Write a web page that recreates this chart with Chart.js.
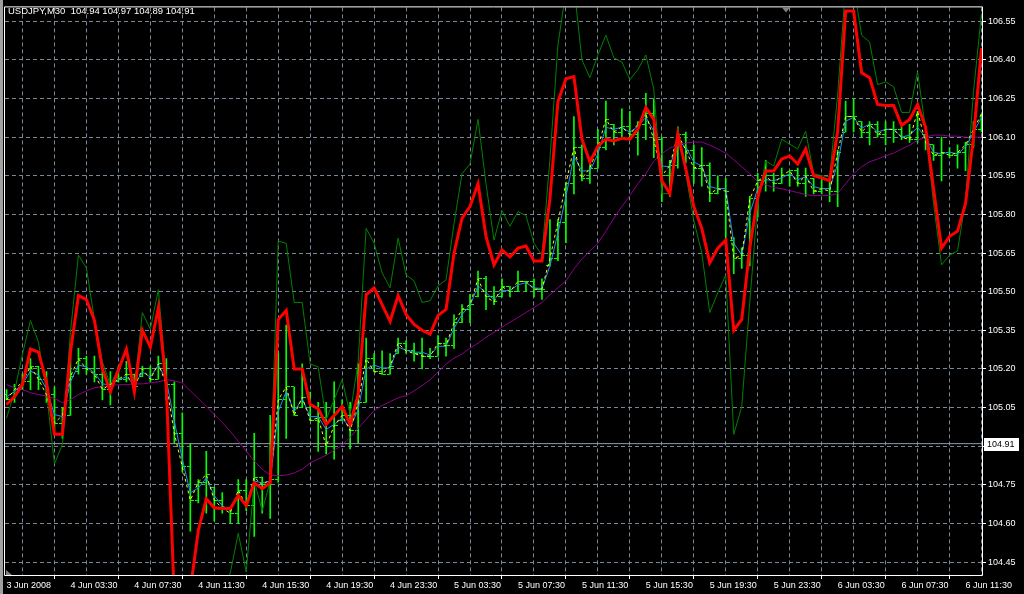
<!DOCTYPE html>
<html>
<head>
<meta charset="utf-8">
<script src="https://cdn.jsdelivr.net/npm/chart.js@4.4.0/dist/chart.umd.min.js"></script>
<style>
html,body{margin:0;padding:0;background:#000;}
canvas{display:block;}
</style>
</head>
<body>
<canvas id="c" width="1024" height="594"></canvas>
<script>
const symbolTitle = "USDJPY,M30  104.94 104.97 104.89 104.91";
const currentPrice = 104.91;
const xLabels = ["3 Jun 2008","4 Jun 03:30","4 Jun 07:30","4 Jun 11:30","4 Jun 15:30","4 Jun 19:30","4 Jun 23:30","5 Jun 03:30","5 Jun 07:30","5 Jun 11:30","5 Jun 15:30","5 Jun 19:30","5 Jun 23:30","6 Jun 03:30","6 Jun 07:30","6 Jun 11:30"];
const yTicks = [104.45,104.60,104.75,104.90,105.05,105.20,105.35,105.50,105.65,105.80,105.95,106.10,106.25,106.40,106.55];

const highs = [105.12,105.14,105.18,105.24,105.21,105.19,105.13,105.05,105.29,105.28,
105.25,105.25,105.19,105.19,105.21,105.23,105.18,105.21,105.21,105.25,
105.24,105.15,105.03,104.91,104.77,104.88,104.74,104.72,104.66,104.77,
104.77,104.95,104.78,105.02,105.26,105.37,105.13,105.22,105.11,105.07,
105.07,105.15,105.08,105.07,105.22,105.32,105.26,105.27,105.26,105.32,
105.31,105.30,105.32,105.28,105.33,105.32,105.41,105.45,105.49,105.58,
105.56,105.52,105.55,105.52,105.58,105.54,105.55,105.55,105.78,105.78,
105.92,106.18,106.07,106.00,106.13,106.24,106.15,106.21,106.20,106.16,
106.27,106.25,106.10,106.01,106.14,106.12,106.07,106.06,106.00,105.95,
105.94,105.71,105.67,105.87,105.96,106.01,105.96,105.98,105.97,105.98,
105.98,105.94,105.94,105.94,106.05,106.24,106.25,106.16,106.16,106.16,
106.16,106.16,106.14,106.15,106.20,106.11,106.07,106.10,106.06,106.07,
106.08,106.16,106.19];

const lows = [105.08,105.07,105.12,105.12,105.12,105.07,104.96,104.93,105.02,105.18,
105.18,105.15,105.08,105.06,105.15,105.15,105.12,105.17,105.15,105.16,
105.08,104.91,104.80,104.57,104.68,104.64,104.61,104.64,104.60,104.60,
104.65,104.55,104.64,104.62,104.76,104.93,105.02,105.05,105.00,104.88,
104.87,104.85,105.00,104.89,104.91,105.07,105.19,105.18,105.18,105.26,
105.26,105.23,105.20,105.24,105.25,105.25,105.28,105.38,105.38,105.48,
105.43,105.45,105.48,105.48,105.50,105.50,105.48,105.47,105.60,105.62,
105.69,105.88,105.93,105.92,105.98,106.05,106.07,106.10,106.10,106.03,
106.09,106.02,105.85,105.87,105.98,106.00,105.92,105.91,105.85,105.88,
105.70,105.57,105.59,105.60,105.79,105.89,105.89,105.92,105.91,105.91,
105.87,105.88,105.88,105.85,105.83,106.12,106.12,106.10,106.07,106.10,
106.07,106.08,106.09,106.08,106.08,106.05,106.01,105.93,106.02,105.98,
105.97,106.06,106.12];

const opens = [105.10,105.08,105.12,105.15,105.21,105.16,105.10,104.99,105.02,105.19,
105.24,105.20,105.18,105.12,105.15,105.16,105.18,105.17,105.20,105.16,
105.22,105.14,104.95,104.82,104.69,104.76,104.74,104.69,104.66,104.64,
104.73,104.67,104.78,104.75,104.77,105.08,105.13,105.05,105.09,105.00,
105.01,104.90,105.00,105.02,104.96,105.07,105.24,105.19,105.18,105.26,
105.30,105.27,105.26,105.25,105.25,105.30,105.29,105.38,105.43,105.48,
105.55,105.48,105.48,105.52,105.50,105.54,105.54,105.51,105.60,105.63,
105.77,105.92,106.06,105.94,105.98,106.06,106.15,106.12,106.14,106.11,
106.15,106.19,106.09,105.95,105.99,106.11,106.05,105.98,105.99,105.88,
105.90,105.70,105.63,105.64,105.86,105.93,105.95,105.92,105.95,105.97,
105.92,105.94,105.89,105.90,105.89,106.12,106.18,106.16,106.12,106.15,
106.11,106.13,106.13,106.10,106.09,106.11,106.07,106.03,106.04,106.03,
106.04,106.07,106.13];

const closes = [105.08,105.12,105.15,105.21,105.16,105.10,104.99,105.02,105.17,105.24,
105.20,105.18,105.12,105.14,105.16,105.18,105.13,105.20,105.16,105.22,
105.14,104.95,104.82,104.69,104.76,104.79,104.69,104.66,104.64,104.73,
104.67,104.78,104.75,104.77,105.08,105.13,105.02,105.09,105.00,105.01,
104.90,104.98,105.02,104.96,105.07,105.24,105.19,105.18,105.21,105.30,
105.27,105.26,105.25,105.25,105.30,105.29,105.38,105.43,105.45,105.55,
105.48,105.46,105.52,105.50,105.54,105.54,105.51,105.51,105.63,105.77,
105.92,106.06,105.94,105.98,106.06,106.17,106.12,106.14,106.11,106.15,
106.19,106.09,105.95,105.99,106.11,106.05,105.98,105.99,105.88,105.90,
105.89,105.63,105.64,105.86,105.93,105.95,105.92,105.95,105.97,105.92,
105.95,105.89,105.90,105.89,106.04,106.18,106.18,106.12,106.15,106.11,
106.13,106.13,106.10,106.09,106.20,106.08,106.03,106.04,106.03,106.04,
106.07,106.13,106.19];

const blueLine = [105.092,105.112,105.142,105.192,105.177,105.123,105.023,105.015,105.150,105.215,
105.208,105.185,105.142,105.138,105.158,105.169,105.138,105.188,105.169,105.215,
105.158,104.996,104.850,104.719,104.738,104.777,104.708,104.669,104.650,104.708,
104.677,104.765,104.758,104.765,105.035,105.112,105.035,105.085,105.015,105.015,
104.965,104.985,105.008,104.973,105.042,105.200,105.215,105.204,105.204,105.285,
105.273,105.265,105.265,105.254,105.288,105.288,105.358,105.412,105.446,105.523,
105.496,105.469,105.504,105.504,105.527,105.535,105.515,105.512,105.600,105.727,
105.869,106.027,105.969,105.969,106.035,106.138,106.131,106.138,106.119,106.142,
106.177,106.123,105.988,105.985,106.085,106.062,106.004,105.988,105.908,105.900,
105.900,105.688,105.642,105.804,105.900,105.935,105.931,105.942,105.958,105.935,
105.946,105.908,105.900,105.900,105.996,106.162,106.177,106.135,106.150,106.119,
106.131,106.131,106.100,106.108,106.138,106.100,106.042,106.035,106.042,106.035,
106.062,106.119,106.177];

const redLine = [105.062,105.092,105.139,105.277,105.265,105.150,104.946,104.946,105.265,105.485,
105.469,105.389,105.200,105.112,105.196,105.277,105.112,105.350,105.285,105.438,
105.131,104.304,104.227,104.342,104.573,104.696,104.661,104.658,104.658,104.708,
104.669,104.758,104.735,104.758,105.392,105.427,105.200,105.200,105.062,105.046,
104.985,105.019,105.054,104.985,105.100,105.488,105.515,105.450,105.385,105.485,
105.412,105.373,105.350,105.335,105.408,105.431,105.650,105.785,105.831,105.919,
105.715,105.604,105.662,105.635,105.669,105.677,105.619,105.619,105.861,106.238,
106.327,106.335,106.092,106.004,106.065,106.092,106.085,106.096,106.092,106.131,
106.215,106.169,105.931,105.881,106.111,105.977,105.831,105.746,105.612,105.669,
105.700,105.350,105.392,105.669,105.869,105.969,105.969,106.015,106.027,105.996,
106.054,105.950,105.942,105.931,106.123,106.590,106.590,106.350,106.331,106.227,
106.223,106.223,106.146,106.169,106.227,106.138,105.900,105.669,105.715,105.735,
105.842,106.100,106.446];

const greenLine = [105.008,105.112,105.258,105.388,105.304,105.112,104.831,104.908,105.342,105.642,
105.592,105.392,105.227,105.138,105.204,105.273,105.123,105.419,105.354,105.508,
105.150,104.304,104.150,104.150,104.227,104.265,104.304,104.342,104.408,104.562,
104.412,104.765,104.650,104.765,105.696,105.688,105.458,105.458,105.219,105.208,
105.004,105.081,105.158,105.023,105.227,105.746,105.688,105.573,105.515,105.708,
105.565,105.542,105.458,105.465,105.523,105.546,105.765,105.958,105.996,106.169,
105.919,105.700,105.815,105.754,105.811,105.796,105.688,105.642,106.015,106.458,
106.669,106.688,106.400,106.331,106.419,106.496,106.408,106.392,106.323,106.362,
106.419,106.285,105.881,105.881,106.138,105.958,105.777,105.650,105.419,105.496,
105.565,104.946,105.054,105.458,105.842,106.008,105.988,106.092,106.073,106.054,
106.123,105.958,105.950,105.946,106.265,106.688,106.688,106.496,106.469,106.304,
106.315,106.296,106.196,106.196,106.354,106.131,105.842,105.604,105.642,105.658,
105.854,106.277,106.581];

const purpleLine = [105.139,105.127,105.119,105.108,105.100,105.096,105.085,105.069,105.081,105.100,
105.115,105.127,105.131,105.135,105.139,105.139,105.142,105.142,105.146,105.150,
105.158,105.154,105.146,105.115,105.085,105.054,105.023,104.992,104.958,104.919,
104.881,104.842,104.811,104.788,104.785,104.788,104.796,104.811,104.835,104.850,
104.865,104.885,104.904,104.935,104.969,105.004,105.038,105.058,105.073,105.088,
105.096,105.115,105.135,105.158,105.188,105.219,105.242,105.258,105.281,105.300,
105.323,105.342,105.362,105.381,105.400,105.419,105.438,105.458,105.488,105.515,
105.542,105.588,105.627,105.658,105.688,105.735,105.785,105.831,105.873,105.919,
105.958,106.008,106.035,106.058,106.069,106.077,106.081,106.081,106.069,106.054,
106.038,106.012,105.985,105.958,105.927,105.915,105.904,105.900,105.892,105.885,
105.877,105.873,105.873,105.873,105.881,105.919,105.958,105.985,106.004,106.015,
106.027,106.038,106.054,106.069,106.088,106.100,106.108,106.108,106.104,106.104,
106.100,106.100,106.100];

const pts = arr => arr.map((v, i) => ({x: i, y: v}));

function tickImage(left) {
  const c = document.createElement('canvas');
  c.width = 7; c.height = 1;
  const g = c.getContext('2d');
  g.fillStyle = '#00ff00';
  g.fillRect(left ? 0 : 4, 0, 3, 1);
  return c;
}
const openImg = tickImage(true);
const closeImg = tickImage(false);

const FONT_AX = {family: '"Liberation Sans", Arial, sans-serif', size: 9};

const decor = {
  id: 'decor',
  beforeDraw(chart) {
    const ctx = chart.ctx;
    ctx.save();
    ctx.fillStyle = '#000';
    ctx.fillRect(0, 0, chart.width, chart.height);
    ctx.fillStyle = '#a0a0a0';
    ctx.fillRect(0, 0, 3, chart.height);
    ctx.restore();
  },
  afterDraw(chart) {
    const ctx = chart.ctx;
    const a = chart.chartArea;
    const ys = chart.scales.y;
    ctx.save();
    ctx.strokeStyle = '#ffffff';
    ctx.lineWidth = 1;
    ctx.beginPath();
    ctx.moveTo(a.left - 0.5, a.top - 0.5);
    ctx.lineTo(a.right + 0.5, a.top - 0.5);
    ctx.lineTo(a.right + 0.5, a.bottom + 0.5);
    ctx.lineTo(a.left - 0.5, a.bottom + 0.5);
    ctx.closePath();
    ctx.stroke();
    ctx.fillStyle = '#ffffff';
    ctx.font = '9.5px "Liberation Sans", Arial, sans-serif';
    ctx.textBaseline = 'alphabetic';
    ctx.textAlign = 'left';
    ctx.fillText(symbolTitle, 8, 14);
    const py = Math.round(ys.getPixelForValue(currentPrice));
    ctx.fillStyle = '#ffffff';
    ctx.fillRect(a.right + 2, py - 6, 35, 13);
    ctx.fillStyle = '#000000';
    ctx.font = '9px "Liberation Sans", Arial, sans-serif';
    ctx.textBaseline = 'middle';
    ctx.fillText(currentPrice.toFixed(2), a.right + 5, py + 0.5);
    ctx.fillStyle = '#808080';
    ctx.beginPath();
    ctx.moveTo(782, a.top); ctx.lineTo(790, a.top); ctx.lineTo(786, a.top + 5); ctx.closePath(); ctx.fill();
    ctx.beginPath();
    ctx.moveTo(a.left + 1, a.bottom); ctx.lineTo(a.left + 1, a.bottom - 5); ctx.lineTo(a.left + 7, a.bottom); ctx.closePath(); ctx.fill();
    ctx.restore();
  }
};

const lineDs = (data, color, width, order, dash) => ({
  type: 'line', data: pts(data), borderColor: color, borderWidth: width,
  pointRadius: 0, tension: 0, fill: false, order: order, borderDash: dash || []
});

new Chart(document.getElementById('c'), {
  type: 'line',
  data: {
    datasets: [
      lineDs(redLine, '#ff0000', 3, 0),
      lineDs(closes, '#ffff00', 1, 1, [3, 3]),
      lineDs(blueLine, '#1e90ff', 1, 2),
      lineDs(greenLine, '#008000', 1, 3),
      lineDs(purpleLine, '#8b008b', 1, 4),
      {type: 'line', data: [{x: -1, y: currentPrice}, {x: 130, y: currentPrice}], borderColor: '#8f9cab', borderWidth: 1, pointRadius: 0, order: 5},
      {type: 'line', data: pts(opens), showLine: false, pointStyle: openImg, pointRadius: 3, order: 6},
      {type: 'line', data: pts(closes), showLine: false, pointStyle: closeImg, pointRadius: 3, order: 6},
      {type: 'bar', data: highs.map((h, i) => ({x: i, y: [lows[i], h]})), backgroundColor: '#00ff00', borderWidth: 0, barThickness: 1, order: 7}
    ]
  },
  options: {
    responsive: false,
    animation: false,
    devicePixelRatio: 1,
    events: [],
    layout: {padding: {left: 4, top: 2, right: 0, bottom: 0}},
    plugins: {legend: {display: false}, tooltip: {enabled: false}},
    scales: {
      x: {
        type: 'linear', min: -0.1875, max: 122.0625, offset: false,
        afterBuildTicks: s => { const t = []; for (let v = 0; v <= 120; v += 4) t.push({value: v}); s.ticks = t; },
        afterFit: s => { s.height = 19; },
        grid: {color: '#778899', lineWidth: 1, drawTicks: true, tickLength: 4, tickWidth: 1,
               tickColor: c => (c.tick && c.tick.value % 8 === 0) ? '#ffffff' : 'rgba(0,0,0,0)', tickBorderDash: []},
        border: {display: false, dash: [4, 3]},
        ticks: {color: '#ffffff', font: FONT_AX, autoSkip: false, maxRotation: 0, minRotation: 0, align: 'start', padding: 1,
                callback: v => (v % 8 === 0 ? xLabels[v / 8] : '')}
      },
      y: {
        type: 'linear', position: 'right', min: 104.40, max: 106.6038,
        afterBuildTicks: s => { s.ticks = yTicks.map(v => ({value: v})); },
        afterFit: s => { s.width = 42; },
        grid: {color: '#778899', lineWidth: 1, drawTicks: true, tickLength: 4, tickWidth: 1, tickColor: '#ffffff', tickBorderDash: []},
        border: {display: false, dash: [4, 3]},
        ticks: {color: '#ffffff', font: FONT_AX, padding: 2, callback: v => Number(v).toFixed(2)}
      }
    }
  },
  plugins: [decor]
});
</script>
</body>
</html>
